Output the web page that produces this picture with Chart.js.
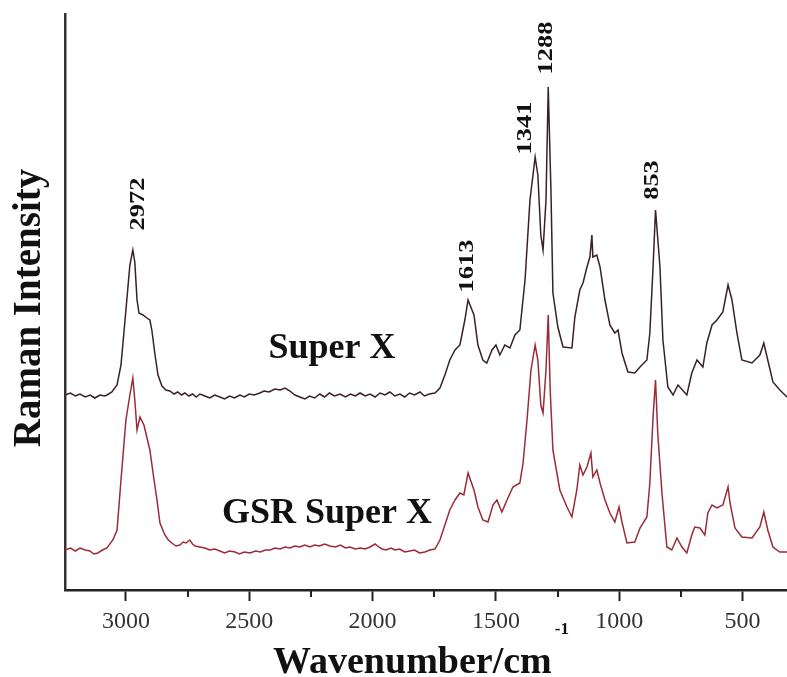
<!DOCTYPE html>
<html><head><meta charset="utf-8">
<script src="https://cdn.jsdelivr.net/npm/chart.js@4/dist/chart.umd.min.js"></script>
<style>html,body{margin:0;padding:0;background:#fff}#wrap{width:787px;height:677px;position:relative}</style>
</head><body><div id="wrap"><canvas id="c"></canvas></div>
<script>
// ---- data (wavenumber in cm^-1, intensity in arbitrary units) ----
const superX_wn = [3247,3225,3205,3186,3165,3145,3126,3105,3085,3070,
3057,3036,3020,3000,2984,2972,2964,2955,2947,2931,
2915,2903,2895,2882,2870,2854,2838,2822,2805,2790,
2775,2761,2745,2730,2715,2700,2680,2660,2640,2619,
2600,2580,2560,2538,2520,2500,2480,2457,2440,2420,
2396,2375,2355,2335,2315,2295,2274,2255,2235,2214,
2195,2175,2155,2132,2110,2090,2070,2051,2030,2010,
1990,1970,1950,1930,1910,1889,1870,1850,1830,1808,
1790,1770,1747,1727,1707,1687,1666,1646,1626,1613,
1589,1573,1553,1537,1516,1500,1484,1464,1443,1423,
1403,1382,1362,1341,1330,1318,1309,1297,1288,1277,
1269,1249,1228,1192,1180,1160,1147,1131,1119,1111,
1107,1091,1078,1058,1038,1018,1005,989,965,937,
916,888,876,863,853,835,823,803,782,762,
726,706,685,661,645,624,604,580,559,543,
523,503,462,430,414,398,377,349,320];
const superX_int = [195,197,194,196,193,195,192,195,194,196,
198,205,225,280,325,340,328,290,277,275,
272,270,260,235,215,204,200,199,196,198,
195,197,194,196,193,196,194,192,195,193,
191,194,192,195,193,196,195,197,199,198,
201,200,202,199,195,193,191,194,192,196,
193,197,194,196,193,196,194,197,194,196,
193,197,195,198,194,196,193,197,195,198,
194,196,197,202,215,230,240,245,270,290,
275,245,230,227,240,245,235,245,242,255,
260,310,390,433,415,355,340,390,503,400,
297,263,243,242,273,300,307,323,333,355,
333,335,323,290,265,257,260,237,218,217,
223,230,257,323,380,323,250,203,195,205,
195,217,230,223,247,265,270,278,305,290,
257,230,227,235,247,230,208,200,193];
const gsr_wn = [3247,3225,3205,3186,3165,3146,3130,3114,3095,3077,
3053,3036,3020,3000,2984,2972,2964,2955,2943,2927,
2903,2886,2874,2862,2842,2828,2814,2797,2781,2768,
2757,2741,2730,2720,2700,2680,2660,2640,2619,2600,
2580,2558,2540,2520,2497,2475,2455,2435,2416,2395,
2375,2355,2335,2315,2295,2275,2254,2235,2215,2195,
2173,2150,2130,2110,2092,2070,2050,2031,2010,1990,
1975,1962,1945,1925,1909,1890,1870,1849,1830,1810,
1788,1768,1747,1727,1707,1687,1666,1646,1630,1613,
1589,1573,1553,1532,1512,1496,1476,1455,1431,1403,
1390,1374,1358,1341,1330,1318,1309,1297,1288,1280,
1269,1241,1212,1192,1172,1160,1147,1131,1115,1107,
1091,1078,1058,1038,1018,1001,989,969,937,916,
888,876,863,853,844,827,807,787,766,746,
726,706,694,673,653,641,624,604,580,559,
551,531,503,462,430,414,398,377,349,320];
const gsr_int = [40,42,39,42,40,39,36,37,40,42,
50,60,110,170,195,212,190,160,173,165,
140,110,90,67,55,50,47,44,45,48,
47,50,46,44,43,42,40,41,39,37,
39,38,36,38,37,39,38,40,40,42,
41,43,42,44,43,45,43,45,44,46,
44,43,45,42,43,41,42,41,43,46,
43,41,40,42,40,41,38,39,40,37,
38,40,41,50,65,80,90,97,95,117,
100,83,70,68,85,90,78,90,103,107,
127,170,220,245,230,185,177,220,275,200,
140,100,83,73,100,125,115,123,137,113,
120,107,90,77,68,83,68,47,48,62,
73,107,173,210,157,97,43,40,52,43,
37,55,63,62,55,77,85,82,85,103,
87,62,53,52,63,78,60,43,38,38];
const majorTicks = [3000,2500,2000,1500,1000,500];
const minorTicks = [2750,2250,1750,1250,750];
const peakLabels = ['2972','1613','1341','1288','853'];
const seriesNames = ['Super X','GSR Super X'];
const xTitle = 'Wavenumber/cm';
const xTitleSup = '-1';
const yTitle = 'Raman Intensity';

const toPts = (xs, ys) => xs.map((v, i) => ({x: v, y: ys[i]}));

const SERIF = '"Liberation Serif", "Times New Roman", serif';

const textPlugin = {
  id: 'texts',
  afterDraw(chart) {
    const {ctx, chartArea: a, scales: {x, y}} = chart;
    ctx.save();
    // minor ticks
    ctx.strokeStyle = '#222'; ctx.lineWidth = 2;
    minorTicks.forEach(v => {
      const px = Math.round(x.getPixelForValue(v));
      ctx.beginPath(); ctx.moveTo(px, a.bottom); ctx.lineTo(px, a.bottom + 7); ctx.stroke();
    });
    ctx.fillStyle = '#111';
    // peak labels (rotated)
    const peakPos = [[2949,386],[1614,324],[1382,462],[1297,542],[868,410]];
    ctx.font = 'bold 22px ' + SERIF;
    ctx.textAlign = 'center'; ctx.textBaseline = 'middle';
    peakLabels.forEach((t, i) => {
      const px = x.getPixelForValue(peakPos[i][0]), py = y.getPixelForValue(peakPos[i][1]);
      ctx.save(); ctx.translate(px, py); ctx.rotate(-Math.PI / 2); ctx.scale(1.2, 1);
      ctx.fillText(t, 0, 0); ctx.restore();
    });
    // series labels
    const namePos = [[2165,232],[2185,67]];
    ctx.font = 'bold 36px ' + SERIF;
    ctx.textBaseline = 'alphabetic';
    seriesNames.forEach((t, i) => {
      ctx.fillText(t, x.getPixelForValue(namePos[i][0]), y.getPixelForValue(namePos[i][1]));
    });
    // y title
    ctx.save();
    ctx.translate(40, (a.top + a.bottom) / 2 + 6);
    ctx.rotate(-Math.PI / 2);
    ctx.font = 'bold 39px ' + SERIF;
    ctx.textAlign = 'center'; ctx.textBaseline = 'alphabetic';
    ctx.fillText(yTitle, 0, 0);
    ctx.restore();
    // x title with superscript
    ctx.font = 'bold 38px ' + SERIF;
    const w1 = ctx.measureText(xTitle).width;
    ctx.font = 'bold 17px ' + SERIF;
    const w2 = ctx.measureText(xTitleSup).width;
    const cx = (a.left + a.right) / 2 - 5;
    const startX = cx - (w1 + w2 + 3) / 2;
    ctx.textAlign = 'left';
    ctx.font = 'bold 38px ' + SERIF;
    ctx.fillText(xTitle, startX, 673);
    ctx.font = 'bold 17px ' + SERIF;
    ctx.fillText(xTitleSup, startX + w1 + 3, 634);
    ctx.restore();
  }
};

new Chart(document.getElementById('c'), {
  type: 'scatter',
  data: {
    datasets: [
      {label: seriesNames[0], data: toPts(superX_wn, superX_int), showLine: true, borderColor: '#3a2024', borderWidth: 1.5, pointRadius: 0, tension: 0},
      {label: seriesNames[1], data: toPts(gsr_wn, gsr_int), showLine: true, borderColor: '#9c2b37', borderWidth: 1.5, pointRadius: 0, tension: 0}
    ]
  },
  options: {
    responsive: true, maintainAspectRatio: false, animation: false,
    layout: {padding: {top: 14, right: 0, left: 0, bottom: 0}},
    plugins: {legend: {display: false}, tooltip: {enabled: false}},
    scales: {
      x: {
        type: 'linear', reverse: true, min: 320, max: 3247, position: 'bottom',
        afterBuildTicks: s => { s.ticks = majorTicks.map(v => ({value: v})); },
        afterFit: s => { s.height = 87; },
        grid: {display: true, drawOnChartArea: false, drawTicks: true, tickLength: 11, tickWidth: 2, tickColor: '#222'},
        border: {display: true, color: '#222', width: 2.5},
        ticks: {font: {family: SERIF, size: 24}, color: '#333', padding: 6, maxRotation: 0, autoSkip: false,
                 callback: v => String(v)}
      },
      y: {
        min: 0, max: 576,
        afterFit: s => { s.width = 65; },
        grid: {display: false},
        border: {display: true, color: '#333', width: 2.5},
        ticks: {display: false}
      }
    }
  },
  plugins: [textPlugin]
});
</script>
</body></html>
